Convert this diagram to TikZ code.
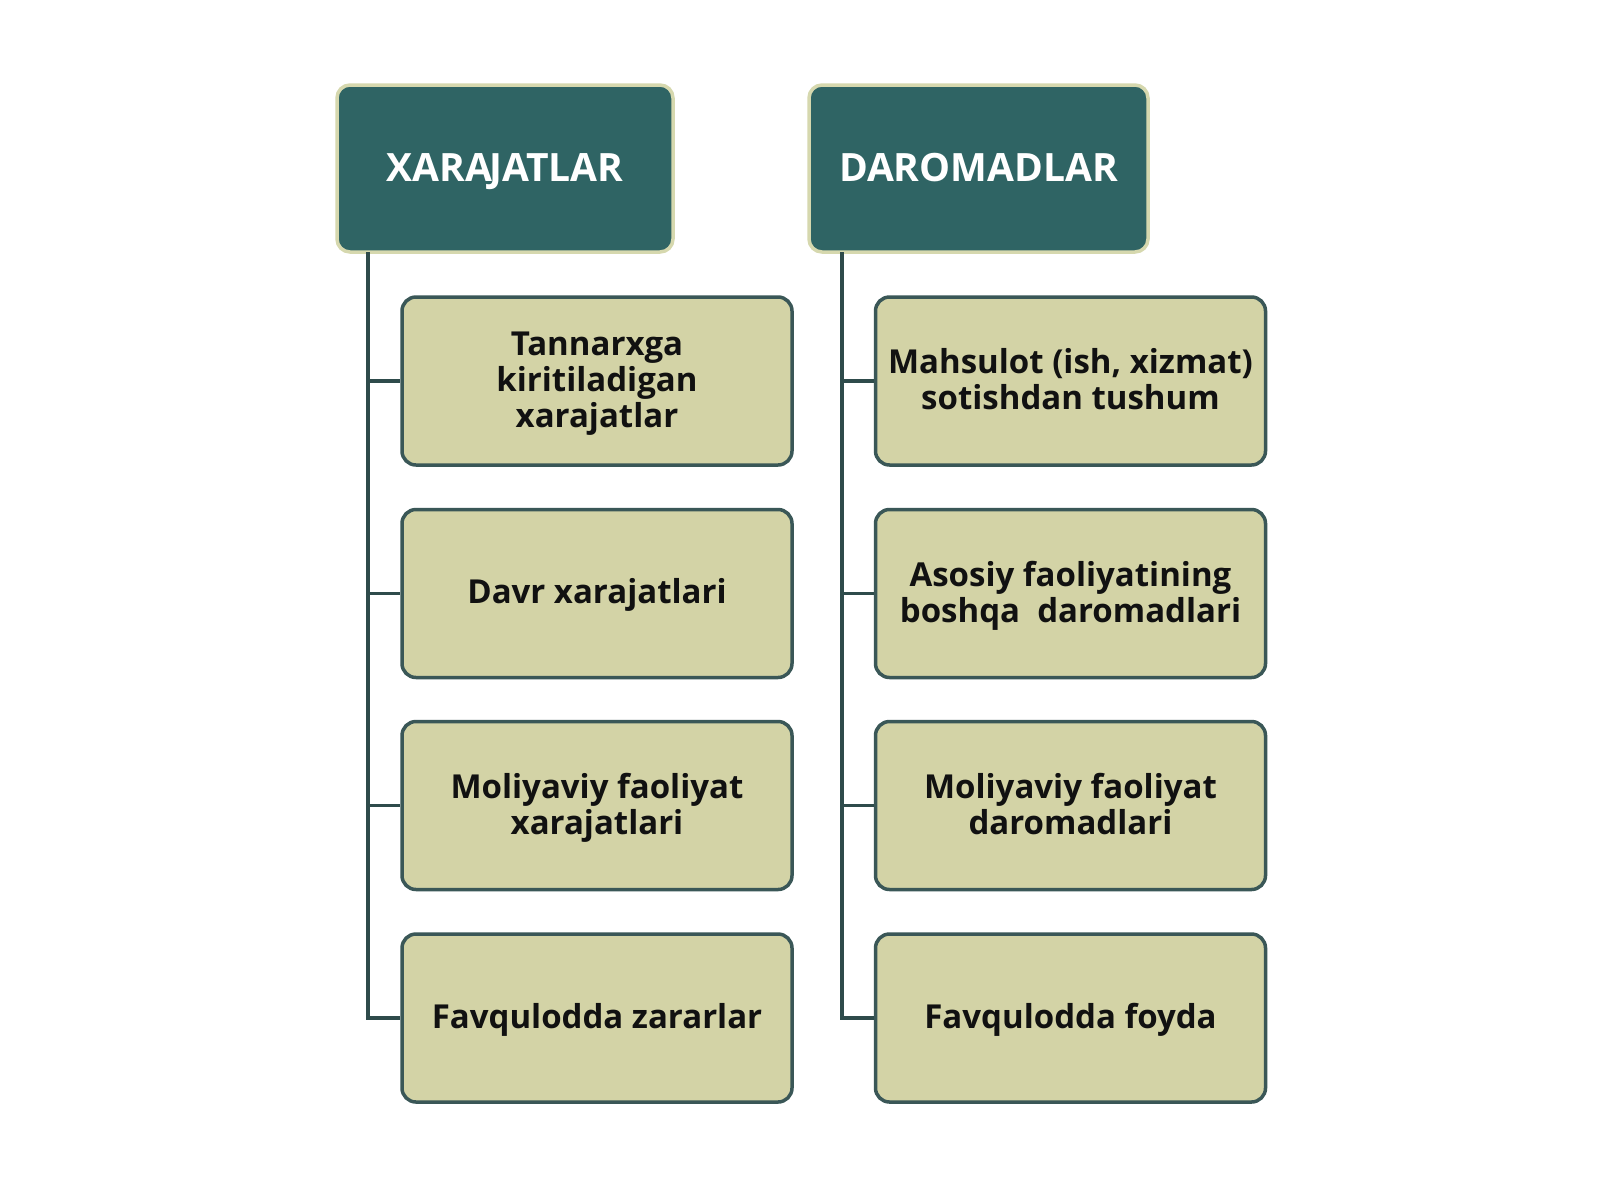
\documentclass[tikz,border=0pt]{standalone}
\usepackage{fontspec}
\setmainfont{Open Sans}
\definecolor{headfill}{HTML}{2F6464}
\definecolor{headedge}{HTML}{D6D8AE}
\definecolor{boxfill}{HTML}{D3D3A6}
\definecolor{boxedge}{HTML}{3A5757}
\definecolor{linecol}{HTML}{2E4B4B}
\definecolor{txt}{HTML}{111111}
\newcommand{\lowtext}[2][2.5pt]{\raisebox{-#1}[\height][\depth]{\begin{tabular}{@{}c@{}}#2\end{tabular}}}
\begin{document}
\begin{tikzpicture}[x=1pt,y=-1pt,
  headbox/.style={draw=headedge, line width=3.5pt, fill=headfill, rounded corners=13pt,
    minimum height=167pt, text=white, font=\bfseries\fontsize{39}{44}\selectfont, inner sep=0pt,
    text height=28pt, text depth=3pt},
  itembox/.style={draw=boxedge, line width=3.5pt, fill=boxfill, rounded corners=14pt,
    minimum width=390pt, minimum height=168pt, align=center, text=txt,
    font=\bfseries\fontsize{33}{36}\selectfont, inner sep=0pt},
  conn/.style={draw=linecol, line width=3.5pt}]
\useasboundingbox (0,0) rectangle (1600,1200);
\fill[white] (0,0) rectangle (1600,1200);

\node[headbox, minimum width=336pt] (hL) at (505,168.5) {XARA\kern-3pt JATLAR};
\node[headbox, minimum width=339pt] (hR) at (978.5,168.5) {DAROMADLAR};

\node[itembox] (l1) at (597,381) {\lowtext[3pt]{Tannarxga\\kiritiladigan\\xarajatlar}};
\node[itembox] (l2) at (597,593.5) {\lowtext{Davr xarajatlari}};
\node[itembox] (l3) at (597,805.5) {\lowtext[4pt]{Moliyaviy faoliyat\\xarajatlari}};
\node[itembox] (l4) at (597,1018) {\lowtext[3pt]{Favqulodda zararlar}};

\node[itembox] (r1) at (1070.5,381) {\lowtext[3.5pt]{Mahsulot (ish, xizmat)\\sotishdan tushum}};
\node[itembox] (r2) at (1070.5,593.5) {\lowtext[4pt]{Asosiy faoliyatining\\boshqa\ \ daromadlari}};
\node[itembox] (r3) at (1070.5,805.5) {\lowtext[3.5pt]{Moliyaviy faoliyat\\daromadlari}};
\node[itembox] (r4) at (1070.5,1018) {\lowtext[3pt]{Favqulodda foyda}};

\coordinate (xL) at (368,252);
\coordinate (xR) at (842,252);

\draw[conn, line join=miter] (xL) -- (xL |- l4.west) -- (l4.west);
\foreach \n in {l1,l2,l3} \draw[conn] (xL |- \n.west) -- (\n.west);
\draw[conn, line join=miter] (xR) -- (xR |- r4.west) -- (r4.west);
\foreach \n in {r1,r2,r3} \draw[conn] (xR |- \n.west) -- (\n.west);
\end{tikzpicture}
\end{document}
